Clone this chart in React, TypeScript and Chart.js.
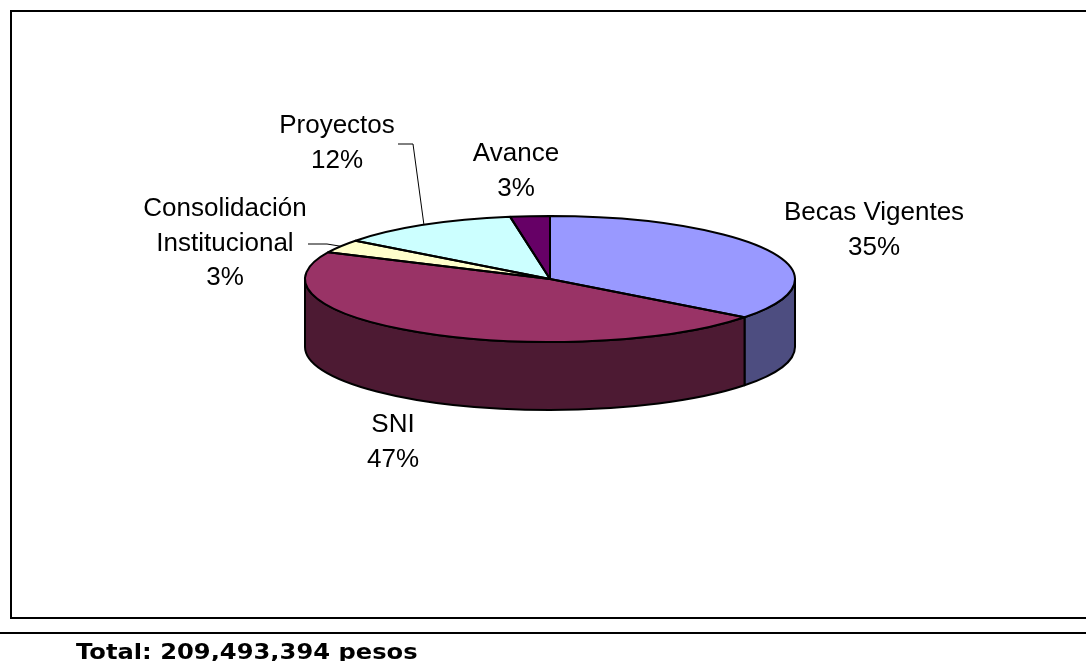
import React, { useEffect, useRef } from "react";
import { Chart, registerables } from "chart.js";

Chart.register(...registerables);

const categories = ["Becas Vigentes", "SNI", "Consolidación Institucional", "Proyectos", "Avance"];
const shares = [35.4, 46.6, 3.4, 12.0, 2.6];
const labelLines = [["Becas Vigentes"], ["SNI"], ["Consolidación", "Institucional"], ["Proyectos"], ["Avance"]];
const topColors = ["#9999FF", "#993366", "#FFFFCC", "#CCFFFF", "#660066"];
const sideColors = ["#4D4D80", "#4D1A33", "#808066", "#668080", "#330033"];
const totalText = "Total: 209,493,394 pesos";

// Layout only
const CX = 550, CY = 279, RX = 245, RY = 63, DEPTH = 68;
const labelCentres = [
  { x: 874, y: 213 },
  { x: 393, y: 425 },
  { x: 225, y: 209 },
  { x: 337, y: 126 },
  { x: 516, y: 154 },
];
const leaders: ({ x: number; y: number }[] | null)[] = [
  null,
  null,
  [{ x: 308, y: 244 }, { x: 327, y: 244 }],
  [{ x: 398, y: 144 }, { x: 413, y: 144 }],
  null,
];
const LINE_H = 34.5;

const tiltPlugin = {
  id: "tilt",
  beforeDatasetsDraw(chart: any) {
    const ctx = chart.ctx;
    const arcs = chart.getDatasetMeta(0).data;
    arcs.forEach((arc: any, i: number) => {
      const a = Math.max(arc.startAngle, 0);
      const b = Math.min(arc.endAngle, Math.PI);
      if (b <= a) return;
      ctx.beginPath();
      ctx.ellipse(arc.x, arc.y, RX, RY, 0, a, b, false);
      ctx.ellipse(arc.x, arc.y + DEPTH, RX, RY, 0, b, a, true);
      ctx.closePath();
      ctx.fillStyle = sideColors[i];
      ctx.fill();
      ctx.strokeStyle = "#000";
      ctx.lineWidth = 2;
      ctx.lineJoin = "round";
      ctx.stroke();
    });
    ctx.save();
    ctx.translate(0, CY);
    ctx.scale(1, RY / RX);
    ctx.translate(0, -CY);
  },
  afterDatasetsDraw(chart: any) {
    const ctx = chart.ctx;
    ctx.restore();
    const arcs = chart.getDatasetMeta(0).data;
    const total = shares.reduce((s, v) => s + v, 0);
    arcs.forEach((arc: any) => {
      ctx.beginPath();
      ctx.moveTo(arc.x, arc.y);
      ctx.ellipse(arc.x, arc.y, RX, RY, 0, arc.startAngle, arc.endAngle, false);
      ctx.closePath();
      ctx.strokeStyle = "#000";
      ctx.lineWidth = 2;
      ctx.lineJoin = "round";
      ctx.stroke();
    });
    ctx.fillStyle = "#000";
    ctx.font = '26px "Liberation Sans"';
    ctx.textAlign = "center";
    ctx.textBaseline = "middle";
    categories.forEach((_, i) => {
      const lines = [...labelLines[i], `${Math.round((shares[i] / total) * 100)}%`];
      lines.forEach((t, k) => {
        ctx.fillText(t, labelCentres[i].x, labelCentres[i].y + k * LINE_H);
      });
      const lead = leaders[i];
      if (lead) {
        const arc = arcs[i];
        const mid = (arc.startAngle + arc.endAngle) / 2;
        ctx.beginPath();
        ctx.moveTo(lead[0].x, lead[0].y);
        ctx.lineTo(lead[1].x, lead[1].y);
        ctx.lineTo(arc.x + RX * Math.cos(mid), arc.y + RY * Math.sin(mid));
        ctx.strokeStyle = "#000";
        ctx.lineWidth = 1;
        ctx.stroke();
      }
    });
  },
};

export default function App() {
  const ref = useRef<HTMLCanvasElement>(null);
  useEffect(() => {
    const chart = new Chart(ref.current as HTMLCanvasElement, {
      type: "pie",
      data: {
        labels: categories,
        datasets: [
          {
            data: shares,
            backgroundColor: topColors,
            borderWidth: 0,
            clip: false,
          } as any,
        ],
      },
      options: {
        animation: false,
        responsive: false,
        maintainAspectRatio: false,
        layout: {
          padding: { left: CX - RX, right: 1086 - CX - RX, top: CY - RX, bottom: 661 - CY - RX },
        },
        plugins: { legend: { display: false }, tooltip: { enabled: false } },
      },
      plugins: [tiltPlugin],
    } as any);
    return () => chart.destroy();
  }, []);

  return (
    <div style={{ position: "fixed", left: 0, top: 0, width: 1086, height: 661, overflow: "hidden", background: "#fff" }}>
      <div
        style={{
          position: "absolute",
          left: 10,
          top: 10,
          width: 1090,
          height: 609,
          borderLeft: "2px solid #000",
          borderTop: "2px solid #000",
          borderBottom: "2px solid #000",
          boxSizing: "border-box",
        }}
      />
      <div style={{ position: "absolute", left: 0, top: 632, width: 1086, height: 2, background: "#000" }} />
      <canvas ref={ref} width={1086} height={661} style={{ position: "absolute", left: 0, top: 0, display: "block" }} />
      <div
        style={{
          position: "absolute",
          left: 76,
          top: 640,
          fontFamily: '"DejaVu Sans"',
          fontWeight: "bold",
          fontSize: 20.5,
          lineHeight: "24px",
          whiteSpace: "nowrap",
          color: "#000",
          transform: "scaleX(1.18)",
          transformOrigin: "left top",
        }}
      >
        {totalText}
      </div>
    </div>
  );
}
